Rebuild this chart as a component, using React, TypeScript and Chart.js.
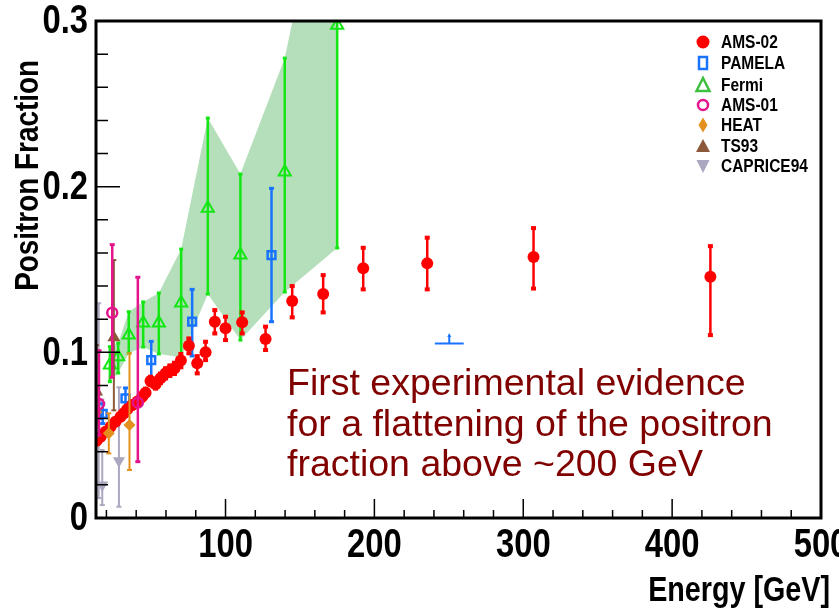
import React, { useEffect, useRef } from 'react';
import { Chart, registerables } from 'chart.js';

Chart.register(...registerables);

// ---------- DATA ----------
const xTickValues = [100, 200, 300, 400, 500];
const yTickValues = [0, 0.1, 0.2, 0.3];

const ams02X = [13.4, 16.1, 19.4, 22.8, 26.1, 29.5, 31.7, 34.0, 37.3, 40.7, 44.0, 46.3, 49.6, 53.0, 56.3, 59.7, 62.6, 65.7, 70.0, 75.4, 81.0, 86.6, 92.8, 100.0, 111.2, 126.9, 144.8, 165.6, 192.5, 235.5, 306.9, 425.7];
const ams02Y = [0.0467, 0.049, 0.052, 0.0551, 0.0581, 0.0611, 0.0632, 0.0656, 0.0682, 0.0702, 0.0732, 0.0756, 0.0827, 0.0808, 0.0843, 0.0873, 0.0889, 0.0903, 0.0950, 0.1040, 0.0934, 0.1000, 0.1185, 0.1145, 0.1181, 0.1080, 0.1310, 0.1352, 0.1507, 0.1537, 0.1575, 0.1456];
const ams02Hi = [0.0487, 0.051, 0.054, 0.0571, 0.0601, 0.0631, 0.0653, 0.0677, 0.0704, 0.0725, 0.0756, 0.0781, 0.0853, 0.0835, 0.0872, 0.0904, 0.0921, 0.0937, 0.0990, 0.1084, 0.0977, 0.1064, 0.1255, 0.1215, 0.1241, 0.1155, 0.1400, 0.1466, 0.1631, 0.1692, 0.1750, 0.1641];
const ams02Lo = [0.0447, 0.047, 0.050, 0.0531, 0.0561, 0.0591, 0.0611, 0.0635, 0.0660, 0.0679, 0.0708, 0.0731, 0.0801, 0.0781, 0.0814, 0.0842, 0.0857, 0.0869, 0.0910, 0.0994, 0.0873, 0.0953, 0.1114, 0.1074, 0.1114, 0.1014, 0.1211, 0.1241, 0.1380, 0.1380, 0.1385, 0.1104];

const pamelaX = [13.6, 17.5, 32.8, 50.1, 77.6, 130.9];
const pamelaY = [0.0622, 0.0628, 0.0722, 0.0953, 0.1185, 0.1587];
const pamelaHi = [0.0680, 0.0690, 0.0785, 0.1066, 0.1380, 0.1990];
const pamelaLo = [0.0565, 0.0570, 0.0672, 0.0830, 0.0978, 0.1185];
const pamelaLimitX = 250.3;
const pamelaLimitY = 0.1054;
const pamelaLimitHalfWidth = 9.7;
const pamelaLimitArrow = 0.111;

const fermiX = [22.3, 27.9, 35.0, 44.7, 55.2, 70.2, 88.1, 110.0, 139.8, 175.0];
const fermiY = [0.0923, 0.0974, 0.1104, 0.1177, 0.1177, 0.1298, 0.1870, 0.1587, 0.2088, 0.2975];
const fermiHi = [0.1034, 0.1056, 0.1245, 0.1304, 0.1358, 0.1623, 0.2414, 0.2076, 0.2776, 0.4300];
const fermiLo = [0.0823, 0.0875, 0.0994, 0.1032, 0.0990, 0.0970, 0.1352, 0.1074, 0.1364, 0.1630];

const ams01X = [15.0, 23.9, 41.1];
const ams01Y = [0.0688, 0.1239, 0.0696];
const ams01Hi = [0.1010, 0.1650, 0.1453];
const ams01Lo = [0.0500, 0.0850, 0.0340];

const heatX = [13.2, 21.6, 35.5];
const heatY = [0.0640, 0.0511, 0.0561];
const heatHi = [0.0710, 0.0632, 0.0994];
const heatLo = [0.0570, 0.0390, 0.0290];

const ts93X = [13.4, 25.0];
const ts93Y = [0.0762, 0.1090];
const ts93Hi = [0.1044, 0.1557];
const ts93Lo = [0.0490, 0.0650];

const capriceX = [14.8, 17.2, 28.4];
const capriceY = [0.0700, 0.0199, 0.0346];
const capriceHi = [0.1296, 0.0410, 0.0789];
const capriceLo = [0.0120, 0.0078, 0.0068];

const legendLabels = ['AMS-02', 'PAMELA', 'Fermi', 'AMS-01', 'HEAT', 'TS93', 'CAPRICE94'];
const noteLines = ['First experimental evidence', 'for a flattening of the positron', 'fraction above ~200 GeV'];

// ---------- STYLE ----------
const C = {
  red: '#ff0000',
  blue: '#1874ff',
  green: '#14e614',
  greenLegend: '#3fbf3f',
  band: '#b5dfba',
  magenta: '#e6148c',
  orange: '#e4901c',
  brown: '#8c5a3a',
  gray: '#aca7c0',
  note: '#800000',
};
const SANS = "'Liberation Sans', Arial, Helvetica, sans-serif";

const pts = (xs: number[], ys: number[]) => xs.map((x, i) => ({ x, y: ys[i] }));

// text squeezed horizontally, like the condensed lettering of the original figure
function squeezed(ctx: any, text: string, x: number, y: number, font: string, sx: number, align: string, baseline: string, rot = 0) {
  ctx.save();
  ctx.translate(x, y);
  if (rot) ctx.rotate(rot);
  ctx.scale(sx, 1);
  ctx.font = font;
  ctx.textAlign = align;
  ctx.textBaseline = baseline;
  ctx.fillText(text, 0, 0);
  ctx.restore();
}

const overlay = {
  id: 'overlay',
  beforeDatasetDraw(chart: any, args: any) {
    const ds = chart.data.datasets[args.index];
    if (!ds.errHi) return;
    const { ctx, chartArea: a } = chart;
    const xs = chart.scales.x;
    const ys = chart.scales.y;
    ctx.save();
    ctx.beginPath();
    ctx.rect(a.left, a.top, a.right - a.left, a.bottom - a.top);
    ctx.clip();
    ctx.strokeStyle = ds.errColor;
    ctx.fillStyle = ds.errColor;
    ctx.lineWidth = ds.errWidth;
    ds.data.forEach((p: any, i: number) => {
      const px = xs.getPixelForValue(p.x);
      const yh = ys.getPixelForValue(ds.errHi[i]);
      const yl = ys.getPixelForValue(ds.errLo[i]);
      ctx.beginPath();
      ctx.moveTo(px, yh);
      ctx.lineTo(px, yl);
      ctx.stroke();
      const cw = ds.capW, ch = ds.capH;
      ctx.fillRect(px - cw / 2, yh - ch / 2, cw, ch);
      ctx.fillRect(px - cw / 2, yl - ch / 2, cw, ch);
    });
    ctx.restore();
  },
  afterDatasetsDraw(chart: any) {
    const { ctx, chartArea: a } = chart;
    const xs = chart.scales.x;
    const ys = chart.scales.y;
    ctx.save();
    // PAMELA lower-limit marker
    {
      const x1 = xs.getPixelForValue(pamelaLimitX - pamelaLimitHalfWidth);
      const x2 = xs.getPixelForValue(pamelaLimitX + pamelaLimitHalfWidth);
      const xc = xs.getPixelForValue(pamelaLimitX);
      const yv = ys.getPixelForValue(pamelaLimitY);
      const ya = ys.getPixelForValue(pamelaLimitArrow);
      ctx.strokeStyle = C.blue;
      ctx.fillStyle = C.blue;
      ctx.lineWidth = 2;
      ctx.beginPath();
      ctx.moveTo(x1, yv);
      ctx.lineTo(x2, yv);
      ctx.moveTo(xc, yv);
      ctx.lineTo(xc, ya + 2);
      ctx.stroke();
      ctx.beginPath();
      ctx.moveTo(xc - 2, ya + 3);
      ctx.lineTo(xc + 2, ya + 3);
      ctx.lineTo(xc, ya - 1);
      ctx.closePath();
      ctx.fill();
    }
    // inner tick marks
    ctx.strokeStyle = '#000';
    ctx.lineWidth = 1.5;
    ctx.beginPath();
    for (let v = 20; v < 500; v += 20) {
      const px = xs.getPixelForValue(v);
      const len = v % 100 === 0 ? 19 : 8;
      ctx.moveTo(px, a.bottom);
      ctx.lineTo(px, a.bottom - len);
    }
    for (let k = 1; k < 15; k++) {
      const v = k * 0.02;
      const py = ys.getPixelForValue(v);
      const len = k % 5 === 0 ? 24 : 12;
      ctx.moveTo(a.left, py);
      ctx.lineTo(a.left + len, py);
    }
    ctx.stroke();
    // frame
    ctx.lineWidth = 3;
    ctx.strokeRect(a.left, a.top, a.right - a.left, a.bottom - a.top);
    ctx.restore();
  },
  afterDraw(chart: any) {
    const { ctx, chartArea: a } = chart;
    const xs = chart.scales.x;
    const ys = chart.scales.y;
    ctx.save();
    ctx.fillStyle = '#000';
    // tick labels, placed from the scales' own ticks
    const tickFont = `bold 41px ${SANS}`;
    xs.ticks.forEach((t: any) => {
      squeezed(ctx, String(t.value), xs.getPixelForValue(t.value), a.bottom + 7, tickFont, 0.8, 'center', 'top');
    });
    ys.ticks.forEach((t: any) => {
      const lab = t.value === 0 ? '0' : Number(t.value).toFixed(1);
      squeezed(ctx, lab, a.left - 8, ys.getPixelForValue(t.value) + 1, tickFont, 0.8, 'right', 'middle');
    });
    // axis titles
    squeezed(ctx, 'Energy [GeV]', 830, 601, `bold 35px ${SANS}`, 0.82, 'right', 'alphabetic');
    squeezed(ctx, 'Positron Fraction', 29, 60, `bold 34px ${SANS}`, 0.82, 'right', 'middle', -Math.PI / 2);

    // legend
    const rows = [42, 63, 85, 105, 125, 146, 166];
    const mx = 703;
    legendLabels.forEach((lab, i) => {
      const y = rows[i];
      ctx.lineWidth = 2.5;
      if (i === 0) {
        ctx.fillStyle = C.red;
        ctx.beginPath(); ctx.arc(mx, y, 6.5, 0, Math.PI * 2); ctx.fill();
      } else if (i === 1) {
        ctx.strokeStyle = C.blue;
        ctx.strokeRect(mx - 4, y - 6, 8, 12);
      } else if (i === 2) {
        ctx.strokeStyle = C.greenLegend;
        ctx.beginPath(); ctx.moveTo(mx, y - 7); ctx.lineTo(mx + 6.5, y + 6); ctx.lineTo(mx - 6.5, y + 6); ctx.closePath(); ctx.stroke();
      } else if (i === 3) {
        ctx.strokeStyle = C.magenta;
        ctx.beginPath(); ctx.arc(mx, y, 5, 0, Math.PI * 2); ctx.stroke();
      } else if (i === 4) {
        ctx.fillStyle = C.orange;
        ctx.beginPath(); ctx.moveTo(mx, y - 7.5); ctx.lineTo(mx + 4.5, y); ctx.lineTo(mx, y + 7.5); ctx.lineTo(mx - 4.5, y); ctx.closePath(); ctx.fill();
      } else if (i === 5) {
        ctx.fillStyle = C.brown;
        ctx.beginPath(); ctx.moveTo(mx, y - 7); ctx.lineTo(mx + 7, y + 6); ctx.lineTo(mx - 7, y + 6); ctx.closePath(); ctx.fill();
      } else {
        ctx.fillStyle = C.gray;
        ctx.beginPath(); ctx.moveTo(mx - 6.5, y - 6); ctx.lineTo(mx + 6.5, y - 6); ctx.lineTo(mx, y + 7); ctx.closePath(); ctx.fill();
      }
      ctx.fillStyle = '#000';
      squeezed(ctx, lab, 721, y + 1, `bold 18px ${SANS}`, 0.86, 'left', 'middle');
    });

    // annotation
    ctx.fillStyle = C.note;
    ctx.font = `37.5px ${SANS}`;
    ctx.textAlign = 'left';
    ctx.textBaseline = 'alphabetic';
    const base = [395, 436, 476];
    noteLines.forEach((t, i) => ctx.fillText(t, 287, base[i]));
    ctx.restore();
  },
};

export default function App() {
  const ref = useRef<HTMLCanvasElement | null>(null);
  useEffect(() => {
    if (!ref.current) return;
    const mk = (label: string, xs: number[], ys: number[], hi: number[], lo: number[], o: any) => ({
      label,
      data: pts(xs, ys),
      errHi: hi,
      errLo: lo,
      showLine: false,
      ...o,
    });
    const chart = new Chart(ref.current, {
      type: 'scatter',
      data: {
        datasets: [
          mk('AMS-01', ams01X, ams01Y, ams01Hi, ams01Lo, { pointStyle: 'circle', pointRadius: 5, pointBorderWidth: 2.5, borderColor: C.magenta, backgroundColor: 'rgba(0,0,0,0)', errColor: C.magenta, errWidth: 2.5, capW: 5, capH: 3 }),
          mk('TS93', ts93X, ts93Y, ts93Hi, ts93Lo, { pointStyle: 'triangle', pointRadius: 7.5, pointBorderWidth: 0, borderColor: C.brown, backgroundColor: C.brown, errColor: C.brown, errWidth: 2, capW: 5, capH: 2 }),
          mk('HEAT', heatX, heatY, heatHi, heatLo, { pointStyle: 'rectRot', pointRadius: 6, pointBorderWidth: 0, borderColor: C.orange, backgroundColor: C.orange, errColor: C.orange, errWidth: 2, capW: 5, capH: 2 }),
          mk('AMS-02', ams02X, ams02Y, ams02Hi, ams02Lo, { pointStyle: 'circle', pointRadius: 6, pointBorderWidth: 0, borderColor: C.red, backgroundColor: C.red, errColor: C.red, errWidth: 2.5, capW: 5, capH: 4 }),
          mk('PAMELA', pamelaX, pamelaY, pamelaHi, pamelaLo, { pointStyle: 'rect', pointRadius: 5.5, pointBorderWidth: 2.5, borderColor: C.blue, backgroundColor: 'rgba(0,0,0,0)', errColor: C.blue, errWidth: 2.5, capW: 5, capH: 3 }),
          mk('CAPRICE94', capriceX, capriceY, capriceHi, capriceLo, { pointStyle: 'triangle', rotation: 180, pointRadius: 7, pointBorderWidth: 0, borderColor: C.gray, backgroundColor: C.gray, errColor: C.gray, errWidth: 2, capW: 5, capH: 2 }),
          mk('Fermi', fermiX, fermiY, fermiHi, fermiLo, { pointStyle: 'triangle', pointRadius: 7, pointBorderWidth: 2, borderColor: C.green, backgroundColor: 'rgba(0,0,0,0)', errColor: C.green, errWidth: 2.5, capW: 4, capH: 3 }),
          {
            type: 'line',
            label: 'band-hi',
            data: pts(fermiX, fermiHi),
            pointRadius: 0,
            borderWidth: 0,
            borderColor: 'rgba(0,0,0,0)',
            backgroundColor: C.band,
            fill: '+1',
            tension: 0,
          } as any,
          {
            type: 'line',
            label: 'band-lo',
            data: pts(fermiX, fermiLo),
            pointRadius: 0,
            borderWidth: 0,
            borderColor: 'rgba(0,0,0,0)',
            fill: false,
            tension: 0,
          } as any,
        ] as any,
      },
      options: {
        animation: false,
        responsive: false,
        events: [],
        layout: { padding: { top: 21, right: 18, left: 0, bottom: 0 } },
        plugins: { legend: { display: false }, tooltip: { enabled: false } },
        scales: {
          x: {
            type: 'linear',
            min: 13,
            max: 500,
            grid: { display: false, drawTicks: false },
            border: { display: false },
            ticks: { display: false },
            afterBuildTicks: (s: any) => { s.ticks = xTickValues.map((v) => ({ value: v })); },
            afterFit: (s: any) => { s.height = 97; s.paddingLeft = 0; s.paddingRight = 0; },
          },
          y: {
            type: 'linear',
            min: 0,
            max: 0.3,
            grid: { display: false, drawTicks: false },
            border: { display: false },
            ticks: { display: false },
            afterBuildTicks: (s: any) => { s.ticks = yTickValues.map((v) => ({ value: v })); },
            afterFit: (s: any) => { s.width = 96; s.paddingTop = 0; s.paddingBottom = 0; },
          },
        },
      } as any,
      plugins: [overlay],
    });
    return () => chart.destroy();
  }, []);
  return (
    <div style={{ position: 'absolute', left: 0, top: 0, width: 839, height: 615, background: '#fff' }}>
      <canvas ref={ref} width={839} height={615} style={{ display: 'block' }} />
    </div>
  );
}
